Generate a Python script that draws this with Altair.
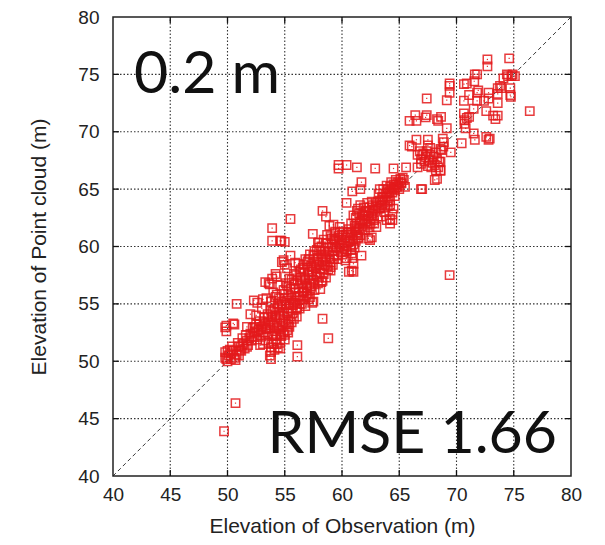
import altair as alt
import pandas as pd

# ---- data (Observation elevation, Point-cloud elevation), metres ----
low = [(49.8,50.8),(49.8,50.3),(50.0,50.0),(50.1,50.5),(50.3,50.2),(50.5,50.9),(50.6,50.3),(50.8,50.6),
       (51.0,50.5),(51.0,51.3),(51.2,50.9),(51.4,51.5),(51.5,51.1),(51.7,51.8),(51.8,51.4),(50.2,51.0),
       (50.4,51.3),(50.9,51.6),(51.3,52.0),(49.9,50.2),(50.7,50.1),(51.1,51.0),(51.6,52.3),(51.9,52.0),
       (50.3,50.7),(50.0,50.9),(51.3,51.4),(51.7,51.25),(52.85,51.4)]

band_52_55 = [(52.0,52.4),(52.1,51.8),(52.2,52.9),(52.3,52.1),(52.4,52.6),(52.5,53.2),(52.6,51.9),(52.7,52.7),
              (52.8,53.5),(52.9,52.3),(53.0,53.0),(53.1,52.5),(53.2,53.8),(53.3,53.3),(53.4,52.8),(53.5,54.1),
              (53.6,53.5),(53.7,52.9),(53.8,54.4),(53.9,53.8),(54.0,53.2),(54.1,54.6),(54.2,54.0),(54.3,53.4),
              (54.4,55.0),(54.5,54.3),(54.6,53.7),(54.7,55.2),(54.8,54.6),(54.9,54.0),(55.0,55.5),(55.1,54.9),
              (55.2,54.2),
              (53.6,51.6),(53.8,51.2),(53.9,52.2),(54.0,51.5),(54.1,52.6),(54.2,51.9),(54.3,52.3),(54.4,51.2),
              (54.5,52.8),(54.6,51.6),(54.7,52.2),(54.8,53.1),(54.9,52.5),(55.0,51.9),(55.1,53.3),(55.2,52.7),
              (55.3,53.6),(55.4,53.0),(55.5,53.9),(55.6,53.4),(55.8,53.7),(56.05,53.9),(53.7,50.5),(54.1,51.0),
              (54.6,51.1),(53.5,52.4),(53.3,51.8),(55.0,52.3),(53.1,51.5),(54.3,52.9),(55.3,52.5),
              (52.3,55.3),(52.6,55.1),(53.1,55.4),(53.4,55.5),(53.0,54.6),(52.5,54.0),(52.0,54.1),(51.7,53.0),
              (53.7,56.7),(54.3,57.4),(54.6,56.6),(54.0,56.0),(54.3,55.8),(53.8,55.2),(53.6,56.8),(53.3,56.9),
              (55.1,56.8),(54.2,57.6),(53.9,57.2)]

band_55_60 = [(55.3,55.8),(55.4,55.1),(55.5,56.3),(55.6,55.5),(55.7,54.9),(55.8,56.7),(55.9,56.0),(56.0,55.3),
              (56.1,57.0),(56.2,56.4),(56.3,55.7),(56.4,57.3),(56.5,56.8),(56.6,56.1),(56.7,57.7),(56.8,57.1),
              (56.9,56.4),(57.0,58.0),(57.1,57.5),(57.2,56.8),(57.3,58.3),(57.4,57.8),(57.5,57.1),(57.6,58.7),
              (57.7,58.1),(57.8,57.4),(57.9,59.0),(58.0,58.4),(58.1,57.7),(58.2,59.3),(58.3,58.7),(58.4,58.0),
              (58.5,59.6),(58.6,59.0),(58.7,58.3),(58.8,59.9),(58.9,59.3),(59.0,58.6),(59.1,60.2),(59.2,59.6),
              (59.3,58.9),(59.4,60.5),(59.5,59.9),(59.6,59.2),(59.7,60.8),(59.8,60.2),(59.9,59.5),(60.0,61.0),
              (54.9,58.8),(55.0,58.4),(55.2,58.1),(55.5,59.2),(55.9,58.6),(56.6,58.1),(57.9,60.3),
              (58.1,59.6),(58.9,61.8),(59.3,60.7),(56.2,58.5),(56.8,58.9),(57.2,59.3),(57.6,59.6),
              (58.0,59.9),(58.4,60.6),(55.4,57.2),(55.8,57.6),(56.4,58.0),(57.0,58.7),(58.7,61.0),(54.75,58.65),
              (56.8,54.8),(57.4,55.1),(57.1,55.4),(58.1,56.3),(58.6,57.3),(59.0,57.9),(55.9,55.1),(56.1,54.7),
              (56.5,55.0),(57.0,55.9),(57.6,56.2),(57.9,56.8),(58.3,57.0),(56.3,54.6),(57.3,56.5),(59.0,58.2),
              (57.5,55.2),(57.2,55.6),(58.2,56.9),(56.7,56.0),(57.8,58.4),(58.5,58.9)]

band_60_65 = [(60.0,60.3),(60.2,59.8),(60.3,60.8),(60.5,61.2),(60.7,60.5),(60.9,61.0),(61.0,60.2),(61.2,61.4),
              (61.4,60.8),(60.1,61.3),(59.8,61.2),(60.4,60.0),(60.6,61.5),(60.8,59.7),(61.1,59.9),(61.3,61.0),
              (61.5,61.6),(60.4,59.0),(60.9,59.0),(60.6,57.8),(61.0,57.8),(60.85,57.9),(61.0,58.5),(60.3,58.8),
              (60.85,59.4),(61.7,59.2),(62.3,60.7),(62.6,60.8),(62.45,60.55),(61.4,60.7),(61.3,62.0),(59.25,61.9),
              (59.1,60.7),(59.4,60.55),(58.0,60.35),(57.45,61.1),
              (61.6,62.2),(61.8,62.8),(62.0,62.4),(62.1,63.1),(62.3,62.6),(62.4,63.4),(62.6,62.9),(62.7,63.6),
              (62.9,63.1),(63.0,63.8),(63.2,63.3),(63.3,64.0),(63.5,63.6),(63.6,64.3),(61.2,62.5),(61.3,63.1),
              (61.5,62.9),(61.0,62.7),(61.4,63.3),(61.9,63.4),(62.2,63.8),(62.5,62.0),(62.8,62.3),(63.0,61.7),
              (63.9,62.3),(64.2,62.0),(64.2,62.4),(64.4,62.3),(63.4,62.6),(63.7,63.0),(64.4,62.8),(64.5,63.3),
              (64.2,63.6),(61.1,61.8),(61.8,61.5),(62.2,61.9),(60.8,62.0),(61.6,63.6),(62.0,63.0),(62.6,63.9),
              (63.1,62.6),(63.8,63.4),(64.0,63.9),(61.9,62.0),
              (63.8,64.6),(64.0,65.0),(64.1,64.4),(64.2,65.2),(64.4,64.7),(64.5,65.4),(64.6,64.9),(64.8,65.2),
              (64.9,65.6),(65.0,65.0),(65.2,65.5),(65.4,65.8),(65.5,65.2),(63.6,65.0),(63.9,65.3),(64.3,65.6),
              (64.7,65.8),(65.3,66.0),(63.5,64.3),(63.2,64.6),(64.0,63.5),(64.2,64.0),(63.3,65.0),(64.6,64.4),
              (65.1,65.9)]

band_fill = [(52.15,52.2),(52.35,53.0),(52.55,52.5),(52.75,53.2),(52.95,52.8),(53.15,53.4),(53.35,52.9),
             (53.55,53.9),(53.75,53.4),(53.95,54.3),(54.15,53.8),(54.35,54.7),(54.55,54.0),(54.75,54.9),
             (54.95,54.3),(55.15,55.3),(55.35,54.6),(55.55,55.7),(55.75,55.1),(55.95,56.3),(56.15,55.6),
             (56.35,56.7),(56.55,56.0),(56.75,57.2),(56.95,56.6),(57.15,57.8),(57.35,57.1),(57.55,58.2),
             (57.75,57.6),(57.95,58.6),(58.15,58.1),(58.35,59.1),(58.55,58.4),(58.75,59.5),(58.95,58.9),
             (59.15,59.9),(59.35,59.3),(59.55,60.4),(59.75,59.8),(59.95,60.6),(60.15,60.1),(60.35,61.0),
             (60.55,60.4),(60.75,61.2),(60.95,60.6),(61.15,61.6),(61.35,61.2),(61.55,62.0),(61.75,62.3),
             (61.95,62.7),(62.15,62.2),(62.35,63.1),(62.55,62.6),(62.75,63.2),(62.95,63.5),(63.15,63.9),
             (63.35,63.4),(63.55,64.1),(63.75,64.0),(63.95,64.7),(64.15,64.8),(64.35,65.0),(64.55,65.1),
             (64.75,65.4),(64.95,65.3),(65.15,65.6),
             (54.2,55.6),(54.5,55.5),(54.9,56.2),(55.2,56.6),(55.6,57.1),(56.0,57.5),(56.3,57.8),(56.7,58.4),
             (57.1,58.9),(57.5,59.2),(57.8,59.7),(58.2,60.0),(58.6,60.3),(59.0,60.9),(59.4,61.3),(59.8,61.7),
             (54.0,52.4),(54.3,51.5),(54.6,52.4),(54.9,53.4),(55.3,53.2),(55.7,54.2),(56.0,54.5),(56.3,55.0),
             (56.6,55.4),(56.9,55.7),(57.2,56.2),(57.6,56.7),(58.0,57.3),(58.4,57.6),(58.8,58.0),(59.2,58.4),
             (59.6,58.9),(60.0,59.3),(60.4,59.6),(60.8,60.0),(61.2,60.5),(61.6,61.0),(62.0,61.4),(62.4,61.7),
             (62.8,62.0)]

upper_65_70 = [(65.9,70.95),(66.4,71.45),(66.5,70.95),(67.4,71.45),(67.3,71.25),(68.3,71.1),(68.4,70.95),
               (68.65,71.3),(69.15,70.3),(67.4,72.9),(69.15,72.75),(69.4,73.4),(69.4,74.2),(69.4,74.0),
               (67.5,69.3),(66.5,69.3),(65.9,68.8),(66.1,68.7),(67.5,68.8),(67.7,68.6),(68.8,69.4),(68.9,69.1),
               (68.85,68.7),(68.6,68.5),(68.7,68.4),(69.5,68.2),(66.8,68.3),(67.0,68.0),
               (67.1,68.1),(67.3,67.8),(67.4,68.3),(67.6,67.5),(67.7,68.0),(67.9,67.3),(68.0,67.8),(68.1,67.1),
               (68.3,67.6),(68.4,66.9),(68.5,67.4),(67.2,67.4),(67.5,67.0),(67.8,66.9),(68.2,68.2),(66.9,67.6),
               (66.6,66.9),(66.9,67.2),(66.6,68.0),(68.6,66.65),(68.3,65.9),(67.0,65.0),(66.9,65.0),(68.1,65.8),
               (68.6,67.4),(68.2,66.6)]

upper_70_77 = [(72.7,76.3),(72.7,75.7),(74.6,76.4),(71.6,75.0),(71.8,75.0),(71.55,74.4),(70.65,74.15),
               (70.9,74.2),(71.1,73.2),(71.9,73.6),(71.8,72.7),(72.4,72.7),(72.8,72.9),(70.65,72.7),(71.5,72.0),
               (72.6,71.8),(73.6,73.8),(73.9,73.8),(73.6,73.3),(73.6,72.5),(74.1,74.65),(74.5,74.85),(74.8,74.85),
               (75.1,74.85),(74.7,73.8),(74.7,73.2),(74.75,73.05),(73.2,71.4),(73.6,71.4),(73.4,71.1),
               (70.65,71.6),(70.7,71.0),(70.9,71.2),(71.1,71.3),(70.7,70.7),(70.8,70.3),(71.5,69.85),(71.6,69.3),
               (70.45,69.0),(72.6,69.55),(72.8,69.3),(72.9,69.4),(74.4,75.0),(74.9,75.0),(73.8,74.0),(71.8,73.4),
               (72.8,73.4)]

outliers = [(49.7,43.9),(50.7,46.35),(49.8,52.95),(49.9,52.6),(50.5,53.3),(50.6,53.2),(49.9,53.1),(50.8,55.0),
            (58.3,53.7),(58.8,52.0),(56.1,51.4),(56.1,50.4),(53.8,50.8),(53.8,50.2),(69.4,57.5),(76.4,71.8),
            (53.9,61.6),(53.9,60.5),(54.6,60.5),(55.0,60.4),(54.7,60.5),(55.5,62.4),(58.3,63.1),(58.6,62.6),
            (59.7,67.1),(60.4,67.1),(59.7,66.8),(61.3,66.9),(62.9,66.8),(64.5,66.8),(65.6,66.9),(61.7,65.6),
            (61.6,65.0),(60.9,64.8),(60.4,63.8),(68.6,66.6)]

tick_values = [40, 45, 50, 55, 60, 65, 70, 75, 80]
inner_ticks = [45, 50, 55, 60, 65, 70, 75]
axis_min, axis_max = 40, 80
tick_len = 0.52  # tick-mark length in axis units (about 6 px)
label_size = "0.2 m"
label_rmse = "RMSE 1.66"

points = low + band_52_55 + band_55_60 + band_60_65 + band_fill + upper_65_70 + upper_70_77 + outliers
df = pd.DataFrame(points, columns=["obs", "cloud"])
diag = pd.DataFrame({"obs": [axis_min, axis_max], "cloud": [axis_min, axis_max]})

# gridlines and inward tick marks as two-point line segments built from the tick values
grid_rows, tick_rows = [], []
for v in inner_ticks:
    grid_rows += [{"id": f"v{v}", "k": 0, "gx": v, "gy": axis_min}, {"id": f"v{v}", "k": 1, "gx": v, "gy": axis_max},
                  {"id": f"h{v}", "k": 0, "gx": axis_min, "gy": v}, {"id": f"h{v}", "k": 1, "gx": axis_max, "gy": v}]
    tick_rows += [{"id": f"b{v}", "k": 0, "gx": v, "gy": axis_min}, {"id": f"b{v}", "k": 1, "gx": v, "gy": axis_min + tick_len},
                  {"id": f"t{v}", "k": 0, "gx": v, "gy": axis_max}, {"id": f"t{v}", "k": 1, "gx": v, "gy": axis_max - tick_len},
                  {"id": f"l{v}", "k": 0, "gx": axis_min, "gy": v}, {"id": f"l{v}", "k": 1, "gx": axis_min + tick_len, "gy": v},
                  {"id": f"r{v}", "k": 0, "gx": axis_max, "gy": v}, {"id": f"r{v}", "k": 1, "gx": axis_max - tick_len, "gy": v}]
grid_df = pd.DataFrame(grid_rows)
tick_df = pd.DataFrame(tick_rows)

W, H = 458, 459
RED = "#e41a1c"

xs = alt.Scale(domain=[axis_min, axis_max], nice=False, zero=False)
ys = alt.Scale(domain=[axis_min, axis_max], nice=False, zero=False)

x_axis = alt.Axis(values=tick_values, title="Elevation of Observation (m)", labelPadding=9,
                  titlePadding=11, grid=False, labelFlush=False)
y_axis = alt.Axis(values=tick_values, title="Elevation of Point cloud (m)", labelPadding=14,
                  titlePadding=28, grid=False, labelFlush=False)

grid_layer = alt.Chart(grid_df).mark_line(color="#333333", strokeWidth=1.1, strokeDash=[1.5, 2]).encode(
    x=alt.X("gx:Q", scale=xs, axis=x_axis),
    y=alt.Y("gy:Q", scale=ys, axis=y_axis),
    detail="id:N", order="k:Q",
)
tick_layer = alt.Chart(tick_df).mark_line(color="#111111", strokeWidth=1.3).encode(
    x=alt.X("gx:Q", scale=xs, axis=x_axis),
    y=alt.Y("gy:Q", scale=ys, axis=y_axis),
    detail="id:N", order="k:Q",
)

diag_line = alt.Chart(diag).mark_line(color="#222", strokeWidth=0.9, strokeDash=[4, 3]).encode(
    x=alt.X("obs:Q", scale=xs, axis=x_axis),
    y=alt.Y("cloud:Q", scale=ys, axis=y_axis),
)

squares = alt.Chart(df).mark_point(shape="square", filled=False, size=70, strokeWidth=1.5,
                                   color=RED, opacity=0.85).encode(
    x=alt.X("obs:Q", scale=xs, axis=x_axis),
    y=alt.Y("cloud:Q", scale=ys, axis=y_axis),
)
dots = alt.Chart(df).mark_point(shape="square", filled=True, size=1.5, color=RED, opacity=0.9).encode(
    x=alt.X("obs:Q", scale=xs, axis=x_axis),
    y=alt.Y("cloud:Q", scale=ys, axis=y_axis),
)

txt_size = alt.Chart(pd.DataFrame({"t": [label_size]})).mark_text(
    font="Lato", fontSize=59, color="#111", align="left", baseline="alphabetic").encode(
    text="t:N", x=alt.value(21), y=alt.value(76))
txt_rmse = alt.Chart(pd.DataFrame({"t": [label_rmse]})).mark_text(
    font="Lato", fontSize=59, color="#111", align="right", baseline="alphabetic").encode(
    text="t:N", x=alt.value(444), y=alt.value(436))

chart = alt.layer(grid_layer, tick_layer, diag_line, squares, dots, txt_size, txt_rmse).properties(
    width=W, height=H,
    autosize=alt.AutoSizeParams(type="none"),
    padding={"left": 113, "top": 17, "right": 34, "bottom": 69},
    background="white",
).configure_view(stroke="#222", strokeWidth=1.5).configure_axis(
    labelFont="Liberation Sans", labelFontSize=19, labelColor="#222",
    titleFont="Liberation Sans", titleFontSize=21, titleFontWeight="normal", titleColor="#222",
    ticks=False, tickSize=0, domain=False,
)

chart.save("out.html", embed_options={"renderer": "svg", "actions": False})
